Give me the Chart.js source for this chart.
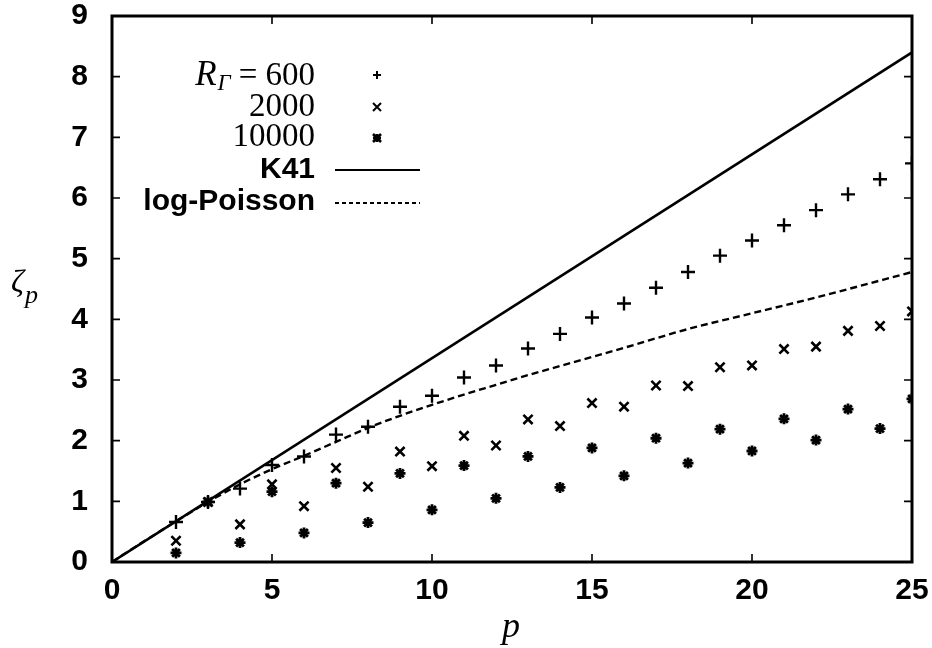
<!DOCTYPE html>
<html>
<head>
<meta charset="utf-8">
<script src="https://cdn.jsdelivr.net/npm/chart.js@4.4.0/dist/chart.umd.min.js"></script>
<style>
  body { margin: 0; background: #fff; }
  canvas { display: block; }
</style>
</head>
<body>
<canvas id="zetaChart" width="932" height="648"></canvas>
<script>
// moments p and scaling exponents zeta_p
const pValues = [2, 3, 4, 5, 6, 7, 8, 9, 10, 11, 12, 13, 14, 15, 16, 17, 18, 19, 20, 21, 22, 23, 24, 25];
const zeta600 = [0.66, 0.99, 1.21, 1.60, 1.74, 2.10, 2.23, 2.56, 2.74, 3.04, 3.24, 3.52, 3.76, 4.03, 4.26, 4.52, 4.78, 5.05, 5.30, 5.55, 5.80, 6.06, 6.31, 6.57];
const zeta2000 = [0.35, 0.99, 0.62, 1.28, 0.92, 1.55, 1.24, 1.82, 1.58, 2.08, 1.92, 2.35, 2.24, 2.62, 2.56, 2.91, 2.90, 3.21, 3.24, 3.51, 3.55, 3.81, 3.89, 4.13];
const zeta10000 = [0.15, 0.99, 0.32, 1.16, 0.48, 1.30, 0.65, 1.46, 0.86, 1.59, 1.05, 1.74, 1.23, 1.88, 1.42, 2.04, 1.63, 2.19, 1.83, 2.36, 2.01, 2.52, 2.20, 2.69];

const k41P = [0, 25];
const k41Zeta = [0, 8.4];
const logPoissonP = [0, 1, 2, 3, 4, 5, 6, 7, 8, 9, 10, 11, 12, 13, 14, 16, 18, 20, 22, 25];
const logPoissonZeta = [0, 0.34, 0.67, 0.99, 1.28, 1.53, 1.75, 1.98, 2.21, 2.41, 2.59, 2.76, 2.92, 3.08, 3.23, 3.53, 3.84, 4.10, 4.36, 4.78];

const xTicks = [0, 5, 10, 15, 20, 25];
const yTicks = [0, 1, 2, 3, 4, 5, 6, 7, 8, 9];

const toPoints = (xs, ys) => xs.map((x, i) => ({ x: x, y: ys[i] }));

const SANS = "'Liberation Sans', Arial, sans-serif";
const SERIF = "'Liberation Serif', 'Times New Roman', serif";

// frame, inward ticks, axis titles and the legend block
const framePlugin = {
  id: "frame",
  beforeDatasetsDraw(chart) {
    const ctx = chart.ctx;
    const a = chart.chartArea;
    const xs = chart.scales.x;
    const ys = chart.scales.y;
    ctx.save();
    ctx.strokeStyle = "#000";
    ctx.lineWidth = 1.6;
    const tl = 8;
    ctx.beginPath();
    for (const v of yTicks) {
      const py = ys.getPixelForValue(v);
      ctx.moveTo(a.left, py); ctx.lineTo(a.left + tl, py);
      ctx.moveTo(a.right, py); ctx.lineTo(a.right - tl, py);
    }
    for (const v of xTicks) {
      const px = xs.getPixelForValue(v);
      ctx.moveTo(px, a.bottom); ctx.lineTo(px, a.bottom - tl);
      ctx.moveTo(px, a.top); ctx.lineTo(px, a.top + tl);
    }
    ctx.stroke();
    ctx.lineWidth = 3;
    ctx.strokeRect(a.left, a.top, a.right - a.left, a.bottom - a.top);
    ctx.restore();
  },
  afterDraw(chart) {
    const ctx = chart.ctx;
    ctx.save();
    ctx.fillStyle = "#000";
    ctx.strokeStyle = "#000";
    ctx.textBaseline = "alphabetic";

    // y title: zeta_p
    ctx.textAlign = "left";
    ctx.font = "italic 32px " + SERIF;
    ctx.fillText("ζ", 11, 292);
    ctx.font = "italic 26px " + SERIF;
    ctx.fillText("p", 25, 303);

    // x title: p
    ctx.textAlign = "center";
    ctx.font = "italic 36px " + SERIF;
    ctx.fillText("p", 511, 637);

    // legend texts, right aligned
    const rx = 315;
    ctx.textAlign = "right";
    ctx.font = "33px " + SERIF;
    const eqText = "= 600";
    ctx.fillText(eqText, rx, 85);
    let cx = rx - ctx.measureText(eqText).width - 8;
    ctx.font = "italic 23px " + SERIF;
    ctx.fillText("Γ", cx, 90);
    cx -= ctx.measureText("Γ").width + 1;
    ctx.font = "italic 35px " + SERIF;
    ctx.fillText("R", cx, 85);

    ctx.font = "33px " + SERIF;
    ctx.fillText("2000", rx, 116);
    ctx.fillText("10000", rx, 146);
    ctx.font = "bold 30px " + SANS;
    ctx.fillText("K41", rx, 178);
    ctx.fillText("log-Poisson", rx, 210);

    // legend samples
    const sx = 377;
    ctx.lineWidth = 2;
    ctx.beginPath();
    ctx.moveTo(sx - 4, 75); ctx.lineTo(sx + 4, 75);
    ctx.moveTo(sx, 71); ctx.lineTo(sx, 79);
    ctx.moveTo(sx - 4, 103); ctx.lineTo(sx + 4, 111);
    ctx.moveTo(sx + 4, 103); ctx.lineTo(sx - 4, 111);
    ctx.stroke();
    ctx.lineWidth = 2.6;
    ctx.beginPath();
    ctx.moveTo(sx - 4, 134); ctx.lineTo(sx + 4, 142);
    ctx.moveTo(sx + 4, 134); ctx.lineTo(sx - 4, 142);
    ctx.moveTo(sx - 4, 138); ctx.lineTo(sx + 4, 138);
    ctx.moveTo(sx, 134); ctx.lineTo(sx, 142);
    ctx.stroke();

    ctx.lineWidth = 2.2;
    ctx.beginPath();
    ctx.moveTo(335, 170); ctx.lineTo(420, 170);
    ctx.stroke();
    ctx.lineWidth = 2;
    ctx.setLineDash([4, 3]);
    ctx.beginPath();
    ctx.moveTo(335, 203); ctx.lineTo(420, 203);
    ctx.stroke();
    ctx.restore();
  },
};

const config = {
  type: "scatter",
  data: {
    datasets: [
      {
        label: "K41",
        data: toPoints(k41P, k41Zeta),
        showLine: true,
        borderColor: "#000",
        borderWidth: 2.6,
        pointRadius: 0,
      },
      {
        label: "log-Poisson",
        data: toPoints(logPoissonP, logPoissonZeta),
        showLine: true,
        borderColor: "#000",
        borderWidth: 2.4,
        borderDash: [7, 4],
        cubicInterpolationMode: "monotone",
        pointRadius: 0,
      },
      {
        label: "R = 600",
        data: toPoints(pValues, zeta600),
        pointStyle: "cross",
        pointRadius: 7,
        borderColor: "#000",
        pointBorderWidth: 2.4,
      },
      {
        label: "2000",
        data: toPoints(pValues, zeta2000),
        pointStyle: "crossRot",
        pointRadius: 6.5,
        borderColor: "#000",
        pointBorderWidth: 2.6,
      },
      {
        label: "10000",
        data: toPoints(pValues, zeta10000),
        pointStyle: "star",
        pointRadius: 5.5,
        borderColor: "#000",
        pointBorderWidth: 2.8,
      },
    ],
  },
  options: {
    responsive: false,
    animation: false,
    layout: { padding: { top: 16, right: 20, left: 0, bottom: 0 } },
    plugins: {
      legend: { display: false },
      tooltip: { enabled: false },
    },
    scales: {
      x: {
        type: "linear",
        min: 0,
        max: 25,
        afterBuildTicks: (scale) => { scale.ticks = xTicks.map((v) => ({ value: v })); },
        ticks: { color: "#000", font: { family: SANS, size: 30, weight: "bold", lineHeight: 1 }, padding: 14 },
        grid: { display: false, drawTicks: false },
        border: { display: false },
        afterFit: (scale) => {
          scale.height = 86;
          scale.paddingLeft = 0;
          scale.paddingRight = 0;
        },
      },
      y: {
        type: "linear",
        min: 0,
        max: 9,
        afterBuildTicks: (scale) => { scale.ticks = yTicks.map((v) => ({ value: v })); },
        ticks: { color: "#000", font: { family: SANS, size: 30, weight: "bold", lineHeight: 1 }, padding: 24 },
        grid: { display: false, drawTicks: false },
        border: { display: false },
        afterFit: (scale) => {
          scale.width = 112;
          scale.paddingTop = 0;
          scale.paddingBottom = 0;
        },
      },
    },
  },
  plugins: [framePlugin],
};

const zetaChart = new Chart(document.getElementById("zetaChart").getContext("2d"), config);
</script>
</body>
</html>
